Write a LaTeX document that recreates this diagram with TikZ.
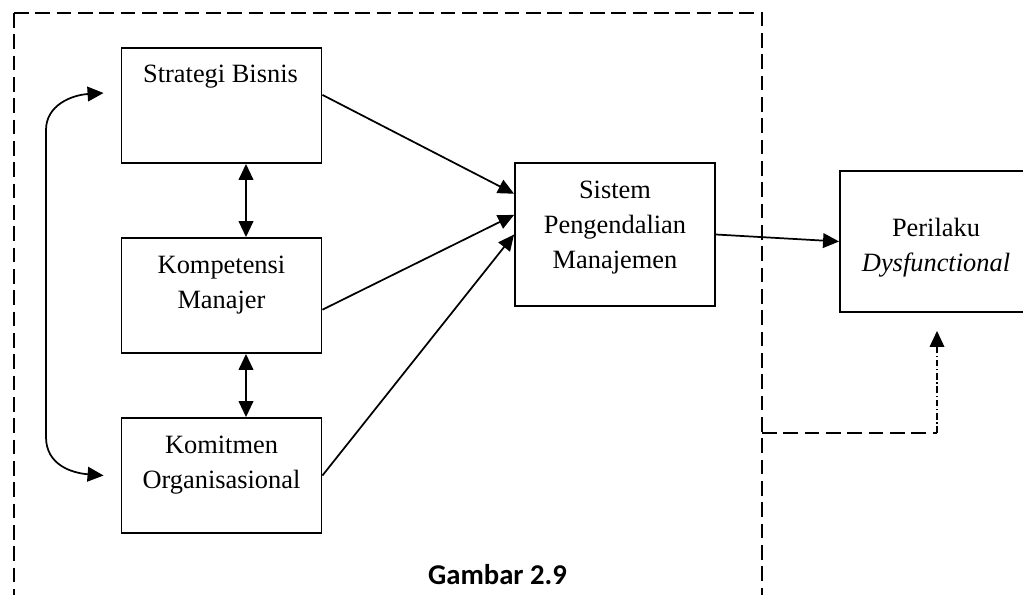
\documentclass[tikz,border=0pt]{standalone}
\usepackage{fontspec}
\setmainfont{Liberation Serif}
\newfontfamily\capfont{Carlito}
\usetikzlibrary{arrows.meta}
% centred multi-line text whose reference point is the first baseline
\newcommand\boxlines[1]{\begin{tabular}[t]{@{}c@{}}#1\end{tabular}}
\begin{document}
\begin{tikzpicture}[x=0.75pt,y=-0.75pt,
  box/.style={draw, line width=1.4pt, minimum width=150pt, inner sep=0pt},
  txt/.style={inner sep=0pt, anchor=base, font=\fontsize{19.8}{26.25}\selectfont},
  tip/.style={-{Triangle[length=12pt,width=11pt]}},
  link/.style={line width=1.3pt, tip},
  both/.style={line width=1.3pt, {Triangle[length=12pt,width=11pt]}-{Triangle[length=12pt,width=11pt]}},
  frame/.style={line width=1.9pt, dash pattern=on 11pt off 5pt},
  feedback/.style={line width=0.9pt, dash pattern=on 5pt off 2pt on 1pt off 2pt, tip}
]
\useasboundingbox (0,0) rectangle (1023,594);
\clip (0,0) rectangle (1023,594);

% boxes
\node[box, minimum height=86.25pt] (sb) at (221.5,105.5) {};
\node[box, minimum height=86.25pt] (km) at (221.5,295.5) {};
\node[box, minimum height=86.25pt] (ko) at (221.5,475.5) {};
\node[box, minimum height=107.25pt] (spm) at (615,234.5) {};
\node[box, minimum height=105.75pt] (pd) at (940,241.5) {};

% box texts
\node[txt] (sbt) at (220.5,82) {Strategi Bisnis};
\node[txt] (kmt) at (221.5,273) {\boxlines{Kompetensi\\Manajer}};
\node[txt] (kot) at (221.5,453) {\boxlines{Komitmen\\Organisasional}};
\node[txt] (spmt) at (615,198) {\boxlines{Sistem\\Pengendalian\\Manajemen}};
\node[txt] (pdt) at (936,236) {\boxlines{Perilaku\\\textit{Dysfunctional}}};

% influences on the control system
\draw[link] (sb.6.5) -- (spm.158.4);
\draw[link] (km.-8.8) -- (spm.169);
\draw[link] (ko.east) -- (spm.west);
\draw[link] (spm.east) -- (pd.west);

% mutual relations on the left
\draw[both] ([shift={(24.5,0)}]sb.south) -- ([shift={(24.5,0)}]km.north);
\draw[both] ([shift={(24.5,0)}]km.south) -- ([shift={(24.5,0)}]ko.north);
\coordinate (lt) at ([shift={(-17,-12.5)}]sb.west);
\coordinate (lb) at ([shift={(-17,0)}]ko.west);
\draw[both] (lt) .. controls (72,95) and (46,105) .. (46,130)
  -- (46,437) .. controls (46,465) and (72,473) .. (lb);

% dashed boundary and feedback
\draw[frame] (14,13) -- (762,13) -- (762,600);
\draw[frame] (14,13) -- (14,600);
\coordinate (fa) at (762,433);
\coordinate (fb) at ([shift={(-3,18)}]pd.south);
\draw[frame] (fa) -- (fa -| fb);
\draw[feedback] (fa -| fb) -- (fb);

% caption
\node[inner sep=0pt, anchor=base, font={\capfont\bfseries\fontsize{21.5}{25}\selectfont}] (cap) at (497.5,584) {Gambar 2.9};
\end{tikzpicture}
\end{document}
